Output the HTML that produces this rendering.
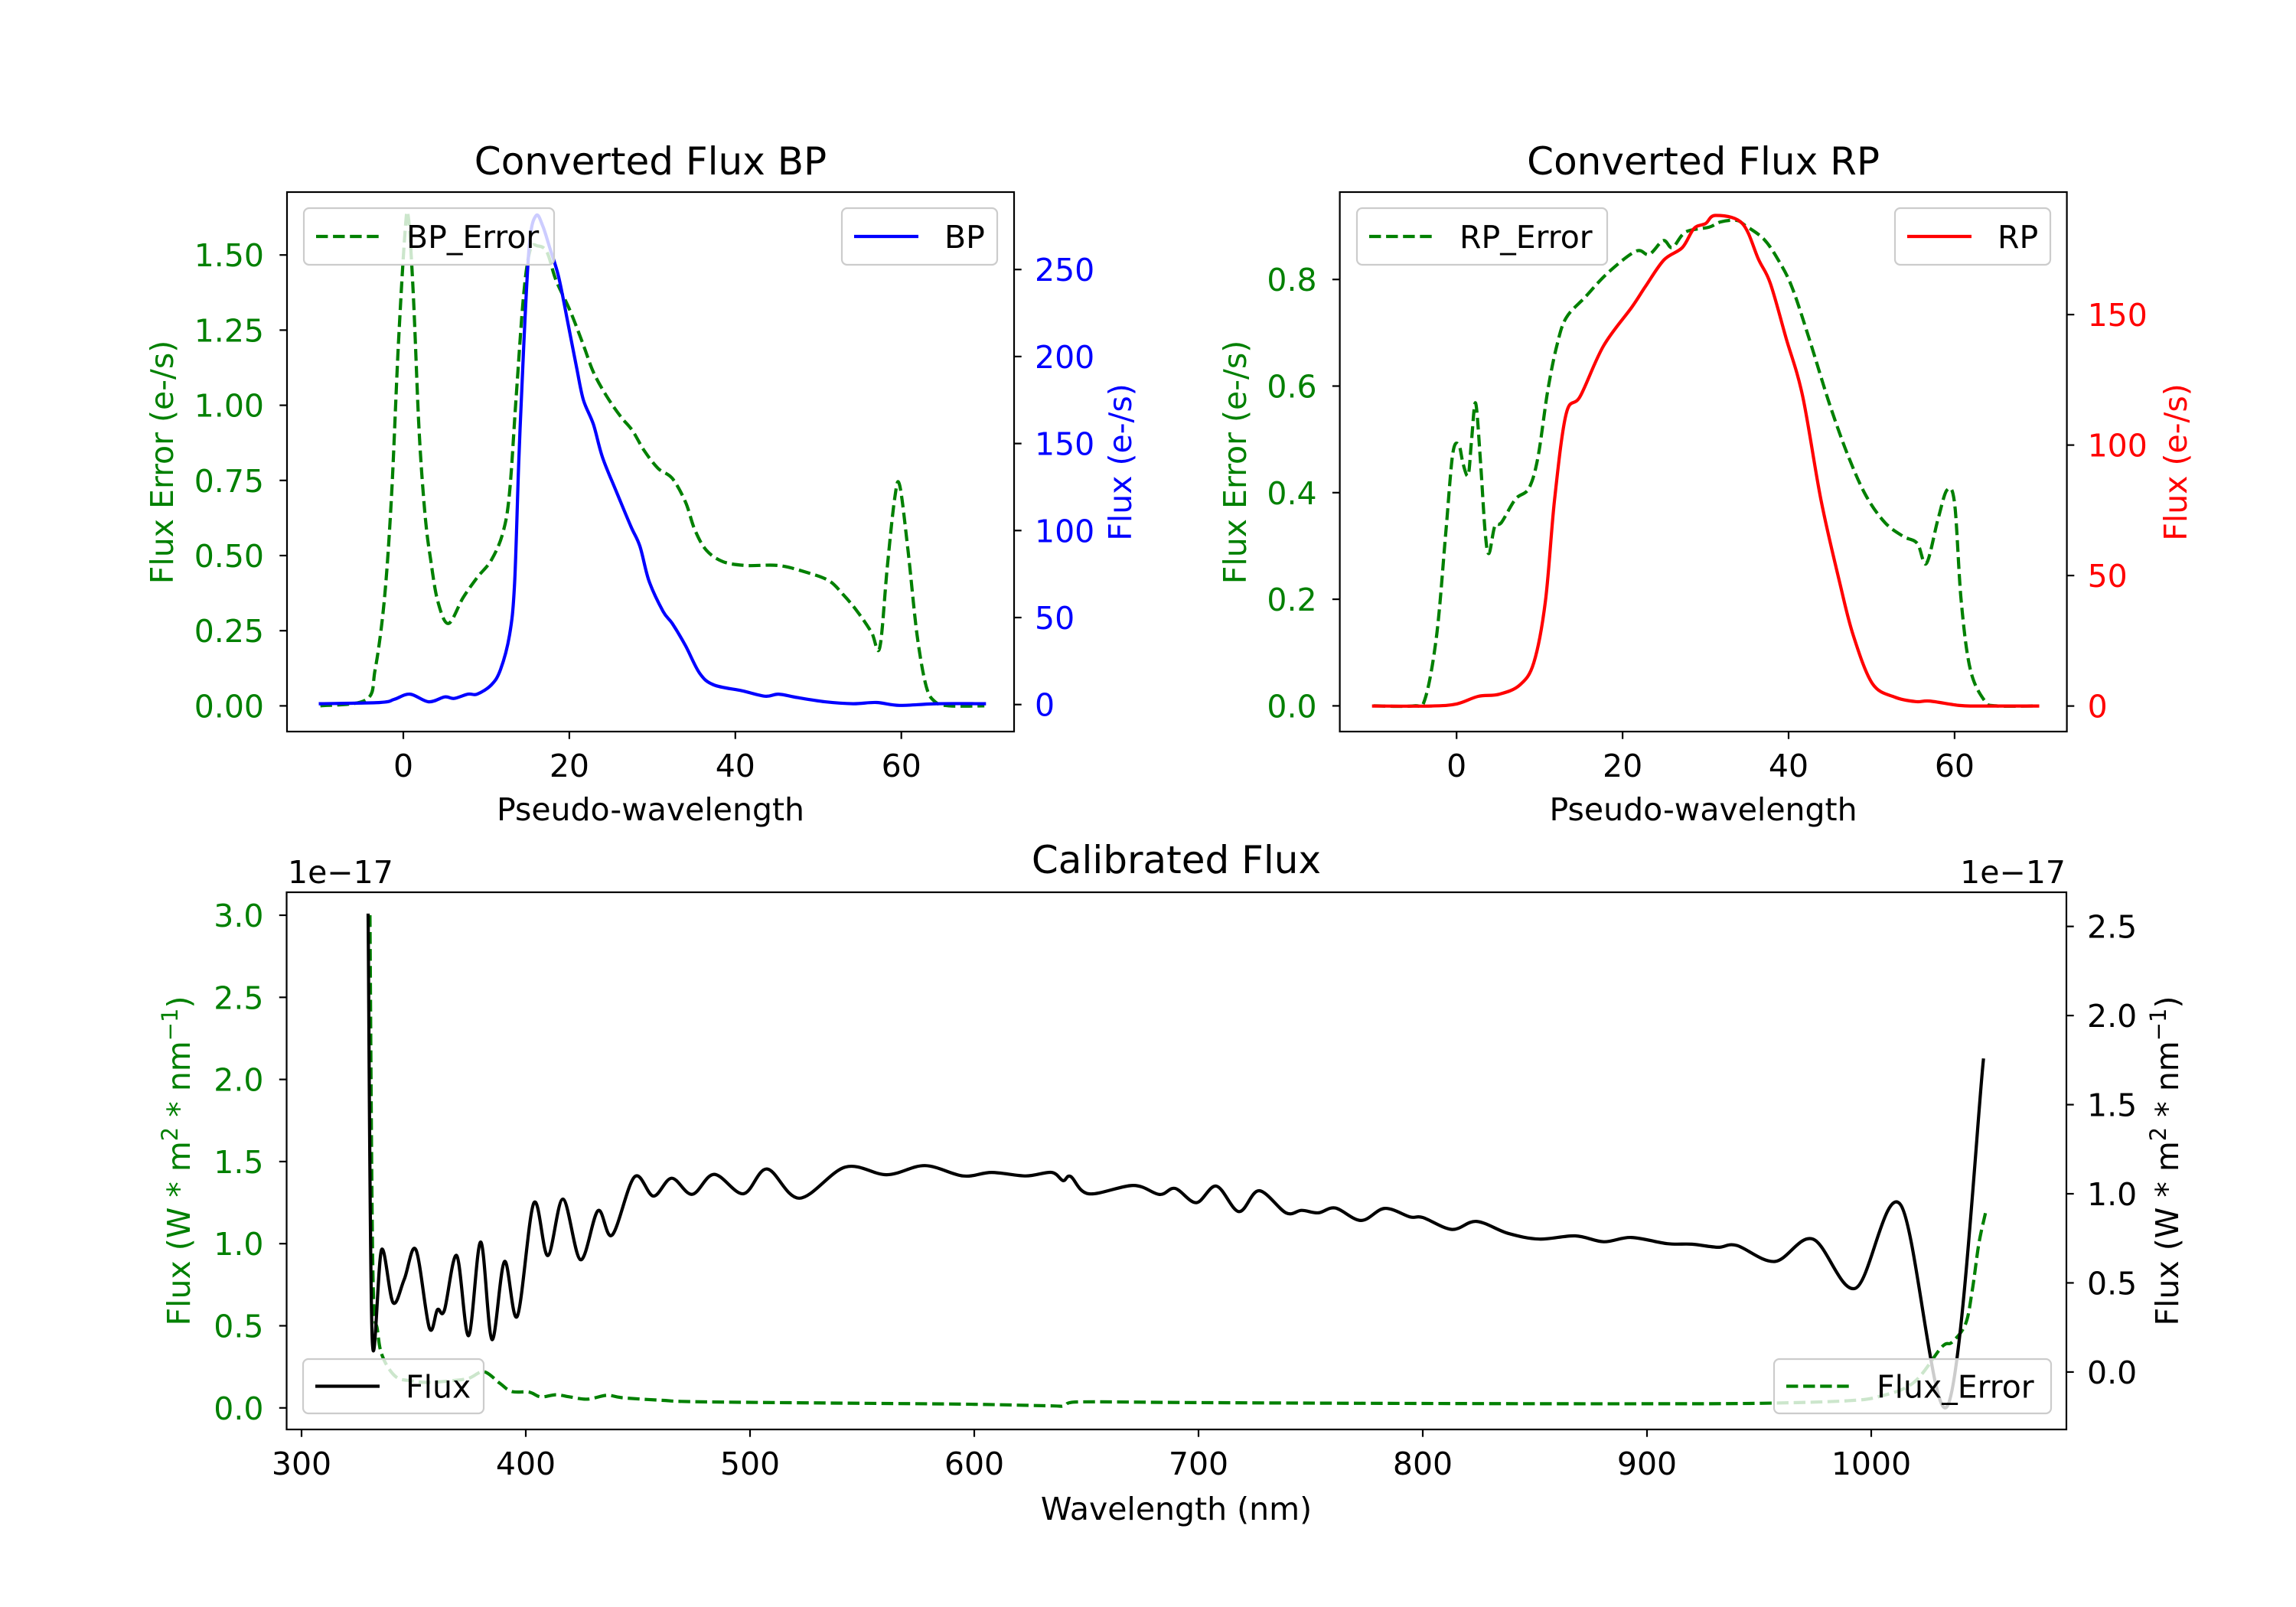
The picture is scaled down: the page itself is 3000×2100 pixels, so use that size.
<!DOCTYPE html>
<html><head><meta charset="utf-8">
<style>
html,body{margin:0;padding:0;background:#fff;}
svg{display:block;font-family:"DejaVu Sans","Liberation Sans",sans-serif;}
</style></head>
<body>
<svg id="fig" width="3000" height="2100" viewBox="0 0 3000 2100" xmlns="http://www.w3.org/2000/svg">
<rect width="3000" height="2100" fill="#fff"/>
<defs>
<clipPath id="clipBP"><rect x="375" y="251" width="950" height="705"/></clipPath>
<clipPath id="clipRP"><rect x="1750.6" y="251" width="950" height="705"/></clipPath>
<clipPath id="clipCal"><rect x="374.5" y="1166" width="2325.5" height="702"/></clipPath>
</defs>
<g id="bp"></g>
<g id="rp"></g>
<g id="cal"></g>
</svg>
<script>
// ---------- data ----------
const bpErrX = [-10,-4.5,-3.4,-2.3,-1.44,-0.6,0.2,0.6,1.2,1.9,2.63,3.3,4.15,5.43,7.2,8.9,10.6,12,12.8,13.6,14.5,15.3,16.2,17.3,18.4,20.1,21.7,22.9,24.5,26.2,27.6,29,30.7,32.4,34,35.1,36.5,38.5,41.3,45.2,48.6,51.3,53,54.7,56.4,57.4,58.3,59.2,59.8,60.8,61.9,63,64.1,65.8,70];
const bpErrY = [0,0.02,0.12,0.35,0.69,1.2,1.575,1.627,1.37,0.916,0.632,0.485,0.348,0.274,0.36,0.427,0.485,0.576,0.71,1.03,1.37,1.518,1.53,1.51,1.416,1.314,1.2,1.11,1.03,0.962,0.916,0.85,0.79,0.757,0.678,0.587,0.518,0.48,0.467,0.467,0.444,0.416,0.37,0.314,0.245,0.194,0.46,0.69,0.734,0.518,0.235,0.065,0.013,0,0];
const bpX = [-10,-2.8,-1.1,0.8,3.04,5,6.1,7.8,8.9,10.6,11.7,12.8,13.4,13.9,14.5,15.2,16,16.8,17.7,18.7,19.8,20.9,21.7,22.9,24,25.7,27.4,28.5,29.6,31.3,32.4,34,35.7,37.4,40.8,43.6,45.2,47.5,50.8,54.2,57,59.8,64.3,70];
const bpY = [0.5,1.2,3,6,1.6,4.4,3.5,6,6,11.3,20,40,69,138,206,265,281,275,261.5,246,220,193,175,161,142,122,102.5,91,71,53.5,46.6,33.8,18,11.3,7.9,4.8,6,4,1.6,0.5,1.2,-0.5,0.5,0.5];

const rpErrX = [-10,-5.2,-3.8,-2.4,-1.3,-0.47,0.26,0.8,1.4,1.8,2.3,2.9,3.45,3.9,4.6,5.4,7.1,8.7,9.8,11,12.1,13.2,15.5,18.2,21.6,23.2,24.9,26,27.6,30.4,31.8,33.7,34.8,37,38.7,40.4,42.6,44.9,47.1,49.3,51.6,53.8,55.5,56.6,58,59.1,60,60.8,61.9,63.6,65,70];
const rpErrY = [0,0,0.013,0.133,0.325,0.472,0.49,0.453,0.433,0.497,0.568,0.453,0.325,0.286,0.337,0.344,0.388,0.408,0.466,0.593,0.677,0.728,0.767,0.812,0.853,0.847,0.873,0.86,0.889,0.898,0.908,0.911,0.901,0.876,0.838,0.786,0.683,0.568,0.472,0.395,0.344,0.318,0.305,0.267,0.35,0.405,0.38,0.196,0.068,0.01,0,0];
const rpX = [-10,-3,0,2.6,5.1,7.6,9.3,10.7,11.8,13.2,14.9,17.7,21.1,22.8,25,27.2,28.6,30,31.2,34.4,36.4,37.8,39.7,41.7,43.9,46.2,47.8,50.1,52.8,55.3,57,60.6,63,70];
const rpY = [0,0,0.8,3.7,4.5,8,16.6,40,79,112,118.7,138,152.8,161,171,175.7,183,184.9,188,185,171,162,141,118.7,79,46.8,27,8.6,3.4,1.7,1.9,0.2,0,0];

const calX = [329.7,331.5,335.7,340.8,345.8,351,357,360.6,363.7,369.2,374.5,379.9,384.9,390.5,396.2,403.6,409.8,416.6,424.4,432.2,438.5,448.5,456.9,465,474.2,484,497,507.6,522,542.5,561,578,595,607.7,623,634.5,639.6,643,651,671,682.6,689.6,699,708,718,727,739,746,753.4,761,772.5,783,794.4,800,813,824,838,852,868,880.7,893,909,920,931.6,940,957,974,993,1013,1034,1050];
const calY = [2.563,0.193,0.687,0.39,0.52,0.686,0.247,0.35,0.345,0.653,0.204,0.729,0.182,0.62,0.313,0.948,0.653,0.97,0.63,0.905,0.768,1.095,0.987,1.087,0.997,1.109,1.0,1.139,0.975,1.15,1.107,1.158,1.10,1.12,1.10,1.12,1.074,1.097,1.0,1.047,0.996,1.03,0.95,1.043,0.90,1.017,0.893,0.907,0.893,0.92,0.85,0.918,0.87,0.867,0.80,0.845,0.778,0.746,0.764,0.731,0.755,0.72,0.717,0.70,0.71,0.62,0.746,0.47,0.94,-0.19,1.75];
const calErrX = [330.5,331.8,333.9,336.2,342,349,356,366.6,374.5,381.4,388.4,393.7,401.5,406.7,413.5,419.6,427.5,436.3,443,460.6,478,550,600,635,640,645,700,800,900,950.7,988.8,1004,1019,1031.4,1036,1042,1045,1048,1051];
const calErrY = [3.0,0.833,0.47,0.31,0.19,0.165,0.155,0.165,0.18,0.22,0.15,0.1,0.096,0.067,0.08,0.067,0.053,0.077,0.062,0.046,0.037,0.028,0.022,0.012,0.012,0.036,0.032,0.027,0.025,0.028,0.043,0.071,0.155,0.37,0.40,0.51,0.71,1.0,1.19];

const bpXTicks = [0,20,40,60];
const bpLTicks = [0,0.25,0.5,0.75,1.0,1.25,1.5];
const bpLLabels = ["0.00","0.25","0.50","0.75","1.00","1.25","1.50"];
const bpRTicks = [0,50,100,150,200,250];
const rpXTicks = [0,20,40,60];
const rpLTicks = [0,0.2,0.4,0.6,0.8];
const rpLLabels = ["0.0","0.2","0.4","0.6","0.8"];
const rpRTicks = [0,50,100,150];
const calXTicks = [300,400,500,600,700,800,900,1000];
const calLTicks = [0,0.5,1.0,1.5,2.0,2.5,3.0];
const calLLabels = ["0.0","0.5","1.0","1.5","2.0","2.5","3.0"];
const calRTicks = [0,0.5,1.0,1.5,2.0,2.5];
const calRLabels = ["0.0","0.5","1.0","1.5","2.0","2.5"];

// ---------- helpers ----------
const NS = "http://www.w3.org/2000/svg";
function mk(parent, tag, attrs, text){
  const e = document.createElementNS(NS, tag);
  for (const k in attrs) e.setAttribute(k, attrs[k]);
  if (text !== undefined) e.textContent = text;
  parent.appendChild(e);
  return e;
}
function pathD(xs, ys, sx, sy){
  const P = xs.map((x,i)=>[sx(x), sy(ys[i])]);
  let d = "M" + P[0][0].toFixed(1) + "," + P[0][1].toFixed(1);
  for (let i=0;i<P.length-1;i++){
    const p0=P[Math.max(0,i-1)], p1=P[i], p2=P[i+1], p3=P[Math.min(P.length-1,i+2)];
    const t=0.5/3;
    let c1=[p1[0]+(p2[0]-p0[0])*t, p1[1]+(p2[1]-p0[1])*t];
    let c2=[p2[0]-(p3[0]-p1[0])*t, p2[1]-(p3[1]-p1[1])*t];
    c1[0]=Math.min(Math.max(c1[0],p1[0]),p2[0]);
    c2[0]=Math.min(Math.max(c2[0],p1[0]),p2[0]);
    d += " C"+c1[0].toFixed(1)+","+c1[1].toFixed(1)+" "+c2[0].toFixed(1)+","+c2[1].toFixed(1)+" "+p2[0].toFixed(1)+","+p2[1].toFixed(1);
  }
  return d;
}
const TF = 41, TITLEF = 50;

function frame(g, ax){
  mk(g,"rect",{x:ax.x0,y:ax.y0,width:ax.x1-ax.x0,height:ax.y1-ax.y0,fill:"none",stroke:"#000","stroke-width":2.2});
}
function xTicks(g, ax, ticks, sx, labels){
  ticks.forEach((t,i)=>{
    const x=sx(t);
    const tk=mk(g,"line",{x1:x,x2:x,y1:ax.y1,y2:ax.y1+9.7,stroke:"#000","stroke-width":2.2});
    
    
    const lb=mk(g,"text",{x:x,y:ax.y1+59,"font-size":TF,"text-anchor":"middle",fill:"#000"}, labels?labels[i]:String(t));
    
    
  });
}
function yTicks(g, ax, ticks, sy, labels, side, color){
  ticks.forEach((t,i)=>{
    const y=sy(t);
    const xa = side==="L"?ax.x0:ax.x1;
    const dx = side==="L"?-9.7:9.7;
    const tk=mk(g,"line",{x1:xa,x2:xa+dx,y1:y,y2:y,stroke:"#000","stroke-width":2.2});
    
    
    const lb=mk(g,"text",{x: side==="L"?xa-30:xa+27, y:y+15,"font-size":TF,"text-anchor":side==="L"?"end":"start",fill:color}, labels?labels[i]:String(t));
    
    
  });
}
function vlabel(g, x, y, text, color, name){
  const t=mk(g,"text",{x:0,y:0,"font-size":TF,"text-anchor":"middle",fill:color,transform:"translate("+x+","+y+") rotate(-90)"}, text);
  
  
  return t;
}
function series(g, xs, ys, sx, sy, color, dashed, clip, name){
  const p=mk(g,"path",{d:pathD(xs,ys,sx,sy),fill:"none",stroke:color,"stroke-width":4.2,"stroke-linejoin":"round","clip-path":"url(#"+clip+")"});
  if (dashed){ p.setAttribute("stroke-dasharray","15.4 6.7"); p.setAttribute("stroke-linecap","butt"); }
  else p.setAttribute("stroke-linecap","square");
  
  
}
function legend(g, x0, y0, x1, y1, color, dashed, label, name){
  const lg=mk(g,"g",{});
  
  
  mk(lg,"rect",{x:x0,y:y0,width:x1-x0,height:y1-y0,rx:7,ry:7,fill:"#fff","fill-opacity":0.8,stroke:"#cccccc","stroke-width":2.2});
  const ym=(y0+y1)/2;
  const ln=mk(lg,"line",{x1:x0+16,x2:x0+100,y1:ym,y2:ym,stroke:color,"stroke-width":4.2});
  if (dashed) ln.setAttribute("stroke-dasharray","15.4 6.7");
  mk(lg,"text",{x:x0+134,y:ym+15,"font-size":TF,fill:"#000"},label);
}

// ---------- BP ----------
(function(){
  const g=document.getElementById("bp");
  const ax={x0:375,x1:1325,y0:251,y1:956};
  const sx=v=>527+v*10.845, sL=v=>922.4-v*392.8, sR=v=>920.7-v*2.274;
  series(g,bpErrX,bpErrY,sx,sL,"#008000",true,"clipBP","bp-error-line");
  series(g,bpX,bpY,sx,sR,"#0000ff",false,"clipBP","bp-flux-line");
  frame(g,ax);
  xTicks(g,ax,bpXTicks,sx);
  yTicks(g,ax,bpLTicks,sL,bpLLabels,"L","#008000");
  yTicks(g,ax,bpRTicks,sR,null,"R","#0000ff");
  const t=mk(g,"text",{x:850,y:228,"font-size":TITLEF,"text-anchor":"middle",fill:"#000"},"Converted Flux BP");
   
  const xl=mk(g,"text",{x:850,y:1072,"font-size":TF,"text-anchor":"middle",fill:"#000"},"Pseudo-wavelength");
   
  vlabel(g,226,604,"Flux Error (e-/s)","#008000","bp-left-y-axis-title");
  vlabel(g,1478,604,"Flux (e-/s)","#0000ff","bp-right-y-axis-title");
  legend(g,397,272,724,346,"#008000",true,"BP_Error","bp-error-legend");
  legend(g,1100,272,1303,346,"#0000ff",false,"BP","bp-legend");
})();

// ---------- RP ----------
(function(){
  const g=document.getElementById("rp");
  const ax={x0:1750.6,x1:2700.6,y0:251,y1:956};
  const sx=v=>1903.2+v*10.845, sL=v=>922.4-v*696.5, sR=v=>922.6-v*3.41;
  series(g,rpErrX,rpErrY,sx,sL,"#008000",true,"clipRP","rp-error-line");
  series(g,rpX,rpY,sx,sR,"#ff0000",false,"clipRP","rp-flux-line");
  frame(g,ax);
  xTicks(g,ax,rpXTicks,sx);
  yTicks(g,ax,rpLTicks,sL,rpLLabels,"L","#008000");
  yTicks(g,ax,rpRTicks,sR,null,"R","#ff0000");
  const t=mk(g,"text",{x:2225.6,y:228,"font-size":TITLEF,"text-anchor":"middle",fill:"#000"},"Converted Flux RP");
   
  const xl=mk(g,"text",{x:2225.6,y:1072,"font-size":TF,"text-anchor":"middle",fill:"#000"},"Pseudo-wavelength");
   
  vlabel(g,1628,604,"Flux Error (e-/s)","#008000","rp-left-y-axis-title");
  vlabel(g,2857,604,"Flux (e-/s)","#ff0000","rp-right-y-axis-title");
  legend(g,1773,272,2100,346,"#008000",true,"RP_Error","rp-error-legend");
  legend(g,2476,272,2679,346,"#ff0000",false,"RP","rp-legend");
})();

// ---------- Calibrated ----------
(function(){
  const g=document.getElementById("cal");
  const ax={x0:374.5,x1:2700,y0:1166,y1:1868};
  const sx=v=>394+(v-300)*2.93, sL=v=>1839.8-v*214.6, sR=v=>1792.9-v*232.9;
  series(g,calErrX,calErrY,sx,sL,"#008000",true,"clipCal","flux-error-line");
  series(g,calX,calY,sx,sR,"#000000",false,"clipCal","flux-line");
  frame(g,ax);
  xTicks(g,ax,calXTicks,sx);
  yTicks(g,ax,calLTicks,sL,calLLabels,"L","#008000");
  yTicks(g,ax,calRTicks,sR,calRLabels,"R","#000000");
  const t=mk(g,"text",{x:1537,y:1141,"font-size":TITLEF,"text-anchor":"middle",fill:"#000"},"Calibrated Flux");
   
  const xl=mk(g,"text",{x:1537,y:1986,"font-size":TF,"text-anchor":"middle",fill:"#000"},"Wavelength (nm)");
   
  const o1=mk(g,"text",{x:376,y:1154,"font-size":TF,fill:"#000"},"1e\u221217");
   
  const o2=mk(g,"text",{x:2699,y:1154,"font-size":TF,"text-anchor":"end",fill:"#000"},"1e\u221217");
   
  function unitLabel(x,color,name){
    const tl=vlabel(g,x,1517,"","",name);
    tl.setAttribute("fill",color);
    const parts=[["Flux (W * m",0],["2",1],[" * nm",0],["\u22121",1],[")",0]];
    parts.forEach(p=>{
      const s=mk(tl,"tspan",{},p[0]);
      if(p[1]){ s.setAttribute("font-size","29"); s.setAttribute("dy","-16"); }
      else if (s.previousSibling && s.previousSibling.getAttribute && s.previousSibling.getAttribute("dy")==="-16"){ s.setAttribute("dy","16"); }
    });
  }
  unitLabel(248,"#008000","calibrated-left-y-axis-title");
  unitLabel(2846,"#000000","calibrated-right-y-axis-title");
  legend(g,396,1776,632,1847,"#000000",false,"Flux","flux-legend");
  legend(g,2318,1776,2680,1847,"#008000",true,"Flux_Error","flux-error-legend");
})();
</script>
</body></html>
